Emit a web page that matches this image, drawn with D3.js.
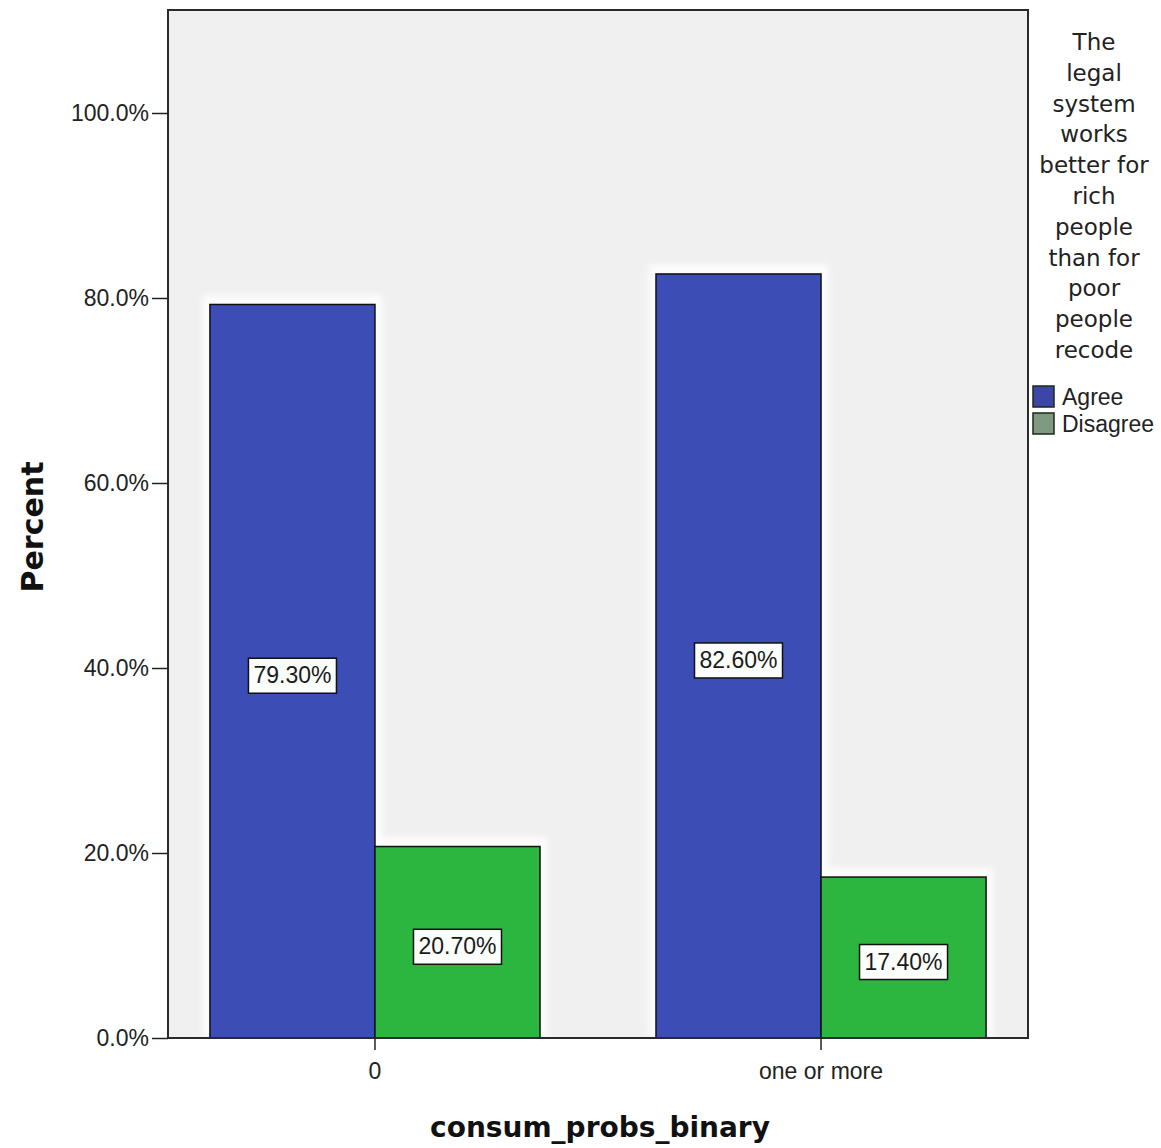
<!DOCTYPE html>
<html>
<head>
<meta charset="utf-8">
<script src="https://cdn.jsdelivr.net/npm/d3@7"></script>
<style>
  html, body { margin: 0; padding: 0; background: #ffffff; }
  svg { display: block; }
</style>
</head>
<body>
<script>
// ---- data ----
const categories = ["0", "one or more"];
const seriesNames = ["Agree", "Disagree"];
const agreeValues = [79.30, 82.60];
const disagreeValues = [20.70, 17.40];
const yTickValues = [0, 20, 40, 60, 80, 100];
const legendTitleLines = ["The", "legal", "system", "works", "better for", "rich", "people", "than for", "poor", "people", "recode"];
const xTitle = "consum_probs_binary";
const yTitle = "Percent";

// ---- layout ----
const W = 1161, H = 1148;
const plotL = 168, plotR = 1028, plotT = 10, plotB = 1038;
const colors = { Agree: "#3c4db6", Disagree: "#2cb640" };
const legendColors = { Agree: "#3c46a6", Disagree: "#7f9a80" };

const svg = d3.select("body").append("svg").attr("width", W).attr("height", H);

const defs = svg.append("defs");
defs.append("filter").attr("id", "glow").attr("x", "-20%").attr("y", "-20%").attr("width", "140%").attr("height", "140%")
  .append("feGaussianBlur").attr("stdDeviation", 3);

// plot background
svg.append("rect").attr("x", plotL).attr("y", plotT).attr("width", plotR - plotL).attr("height", plotB - plotT)
  .attr("fill", "#f0f0f0");

const y = d3.scaleLinear().domain([0, 100]).range([plotB, 113]);
const x0 = d3.scaleBand().domain(categories).range([plotL, plotR]).paddingInner(0.26).paddingOuter(0.094);
const x1 = d3.scaleBand().domain(seriesNames).range([0, x0.bandwidth()]);

const rows = categories.map((c, i) => ({ cat: c, vals: [
  { name: "Agree", v: agreeValues[i] }, { name: "Disagree", v: disagreeValues[i] } ] }));

const groups = svg.selectAll("g.grp").data(rows).enter().append("g")
  .attr("transform", d => `translate(${x0(d.cat)},0)`);

// white glow behind bars
groups.selectAll("rect.glow").data(d => d.vals).enter().append("rect")
  .attr("x", d => x1(d.name) - 7).attr("y", d => y(d.v) - 9)
  .attr("width", x1.bandwidth() + 14).attr("height", d => plotB - y(d.v) + 9)
  .attr("fill", "#ffffff").attr("opacity", 0.85).attr("filter", "url(#glow)");

groups.selectAll("rect.bar").data(d => d.vals).enter().append("rect")
  .attr("class", "bar")
  .attr("x", d => x1(d.name)).attr("y", d => y(d.v))
  .attr("width", x1.bandwidth()).attr("height", d => plotB - y(d.v))
  .attr("fill", d => colors[d.name]).attr("stroke", "#111").attr("stroke-width", 1.5);

// data labels
groups.each(function(d) {
  const g = d3.select(this);
  d.vals.forEach(s => {
    const cx = x1(s.name) + x1.bandwidth() / 2;
    const cy = (y(s.v) + plotB) / 2 + 4;
    const lg = g.append("g");
    const t = lg.append("text").attr("x", cx).attr("y", cy).attr("text-anchor", "middle")
      .attr("dominant-baseline", "central")
      .style("font-family", "'Liberation Sans', Arial, sans-serif").style("font-size", "23px")
      .attr("fill", "#1a1a1a").text(s.v.toFixed(2) + "%");
    const bb = t.node().getBBox();
    lg.insert("rect", "text").attr("x", bb.x - 5).attr("y", cy - 17).attr("width", bb.width + 10).attr("height", 35)
      .attr("fill", "#fbfdfb").attr("stroke", "#111").attr("stroke-width", 1.5);
  });
});

// plot border
svg.append("rect").attr("x", plotL).attr("y", plotT).attr("width", plotR - plotL).attr("height", plotB - plotT)
  .attr("fill", "none").attr("stroke", "#2a2a2a").attr("stroke-width", 2);

// y axis
const yAxis = d3.axisLeft(y).tickValues(yTickValues).tickSize(16).tickPadding(3)
  .tickFormat(d => d.toFixed(1) + "%");
const yg = svg.append("g").attr("transform", `translate(${plotL},0)`).call(yAxis);
yg.select(".domain").remove();
yg.selectAll("line").attr("stroke", "#222").attr("stroke-width", 1.5);
yg.selectAll("text").style("font-family", "'Liberation Sans', Arial, sans-serif").style("font-size", "23px").attr("fill", "#222");

// x axis
const xAxis = d3.axisBottom(x0).tickSize(12).tickPadding(13);
const xg = svg.append("g").attr("transform", `translate(0,${plotB})`).call(xAxis);
xg.select(".domain").remove();
xg.selectAll(".tick").attr("transform", d => `translate(${x0(d) + x0.bandwidth() / 2},0)`);
xg.selectAll("line").attr("stroke", "#222").attr("stroke-width", 1.5);
xg.selectAll("text").style("font-family", "'Liberation Sans', Arial, sans-serif").style("font-size", "23px").attr("fill", "#222");

// axis titles
svg.append("text").attr("x", 600).attr("y", 1137).attr("text-anchor", "middle")
  .style("font-family", "'DejaVu Sans', Verdana, sans-serif").style("font-weight", "bold").style("font-size", "28px")
  .attr("fill", "#111").text(xTitle);
svg.append("text").attr("transform", "translate(43,527) rotate(-90)").attr("text-anchor", "middle")
  .style("font-family", "'DejaVu Sans', Verdana, sans-serif").style("font-weight", "bold").style("font-size", "30px")
  .attr("fill", "#111").text(yTitle);

// legend
const lg = svg.append("g");
lg.selectAll("text.lt").data(legendTitleLines).enter().append("text")
  .attr("x", 1094).attr("y", (d, i) => 50 + i * 30.8).attr("text-anchor", "middle")
  .style("font-family", "'DejaVu Sans', Verdana, sans-serif").style("font-size", "23px").attr("fill", "#222")
  .text(d => d);
const items = lg.selectAll("g.item").data(seriesNames).enter().append("g")
  .attr("transform", (d, i) => `translate(1033,${386 + i * 27})`);
items.append("rect").attr("width", 21).attr("height", 21)
  .attr("fill", d => legendColors[d]).attr("stroke", "#1a2a1a").attr("stroke-width", 1.5);
items.append("text").attr("x", 29).attr("y", 11).attr("dominant-baseline", "central")
  .style("font-family", "'Liberation Sans', Arial, sans-serif").style("font-size", "23px").attr("fill", "#222")
  .text(d => d);
</script>
</body>
</html>
